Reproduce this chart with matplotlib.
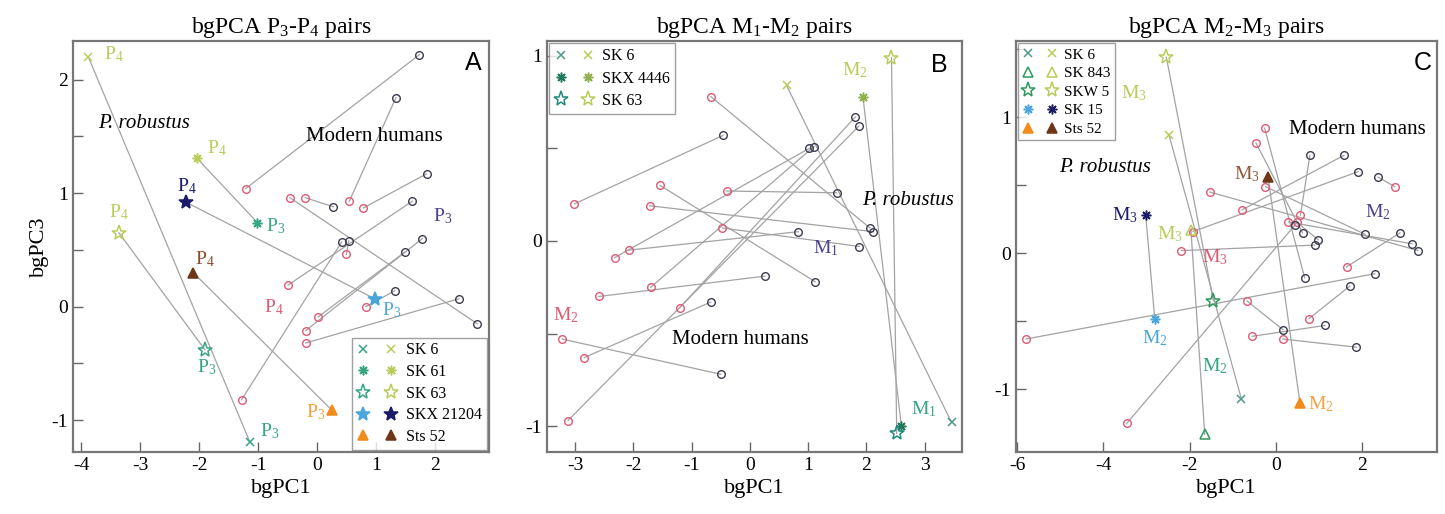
import matplotlib
matplotlib.use('Agg')
import matplotlib.pyplot as plt
from matplotlib.lines import Line2D
from matplotlib.legend_handler import HandlerTuple
from matplotlib.ticker import MultipleLocator

plt.rcParams['font.family'] = ['Liberation Serif', 'DejaVu Serif']
plt.rcParams['mathtext.fontset'] = 'custom'
plt.rcParams['mathtext.rm'] = 'Liberation Serif'
plt.rcParams['mathtext.it'] = 'Liberation Serif:italic'
plt.rcParams['axes.unicode_minus'] = False

# ---------------- Panel A : P3-P4 ----------------
a_mh_p4_x = [-1.21, 0.55, 0.79, -0.46, -0.20, -0.49, -1.28, 0.50, 0.02, -0.19, -0.19, 0.83]
a_mh_p4_y = [1.04, 0.93, 0.87, 0.96, 0.96, 0.19, -0.82, 0.46, -0.09, -0.21, -0.32, 0.00]
a_mh_p3_x = [1.74, 1.34, 1.86, 2.72, 0.28, 1.62, 0.42, 0.54, 1.49, 1.79, 2.41, 1.32]
a_mh_p3_y = [2.22, 1.84, 1.17, -0.15, 0.88, 0.93, 0.57, 0.58, 0.48, 0.60, 0.07, 0.14]
a_rob_names = ["SK 6", "SK 61", "SK 63", "SKX 21204", "Sts 52"]
a_rob_p3_x = [-1.14, -1.01, -1.90, 0.98, 0.25]
a_rob_p3_y = [-1.19, 0.74, -0.38, 0.07, -0.91]
a_rob_p4_x = [-3.88, -2.04, -3.36, -2.22, -2.10]
a_rob_p4_y = [2.20, 1.31, 0.65, 0.92, 0.30]

# ---------------- Panel B : M1-M2 ----------------
b_mh_m2_x = [-3.01, -0.67, -0.40, -1.54, -1.72, -2.08, -2.32, -2.59, -2.84, -3.22, -3.12, -1.20, -1.70, -0.47]
b_mh_m2_y = [0.20, 0.78, 0.27, 0.30, 0.19, -0.05, -0.09, -0.30, -0.63, -0.53, -0.97, -0.36, -0.25, 0.07]
b_mh_m1_x = [-0.46, 2.06, 1.49, 1.12, 2.12, 0.83, 1.02, 0.26, -0.67, -0.50, 1.87, 1.81, 1.10, 1.88]
b_mh_m1_y = [0.57, 0.07, 0.26, -0.22, 0.05, 0.05, 0.50, -0.19, -0.33, -0.72, 0.62, 0.67, 0.51, -0.03]
b_rob_names = ["SK 6", "SKX 4446", "SK 63"]
b_rob_m1_x = [3.46, 2.60, 2.52]
b_rob_m1_y = [-0.98, -1.00, -1.04]
b_rob_m2_x = [0.63, 1.94, 2.43]
b_rob_m2_y = [0.84, 0.78, 0.99]

# ---------------- Panel C : M2-M3 ----------------
c_mh_m3_x = [-5.80, -3.46, -0.67, -0.55, 0.16, 0.77, 1.64, -2.19, 2.76, 0.57, -0.26, -0.46, -1.92, -0.78, -0.24, 0.29, -1.53, 0.48]
c_mh_m3_y = [-0.63, -1.25, -0.35, -0.61, -0.63, -0.48, -0.10, 0.02, 0.49, 0.28, 0.92, 0.81, 0.16, 0.32, 0.49, 0.23, 0.45, 0.23]
c_mh_m2_x = [2.30, 0.45, 0.16, 1.14, 1.87, 1.72, 2.88, 0.90, 2.37, 0.79, 0.67, 0.62, 1.91, 1.58, 2.07, 3.16, 3.30, 0.98]
c_mh_m2_y = [-0.15, 0.21, -0.56, -0.53, -0.69, -0.24, 0.15, 0.06, 0.56, 0.72, -0.18, 0.15, 0.60, 0.72, 0.14, 0.07, 0.02, 0.10]
c_rob_names = ["SK 6", "SK 843", "SKW 5", "SK 15", "Sts 52"]
c_rob_m2_x = [-0.80, -1.65, -1.45, -2.81, 0.56]
c_rob_m2_y = [-1.07, -1.33, -0.35, -0.48, -1.10]
c_rob_m3_x = [-2.48, -1.97, -2.54, -3.02, -0.18]
c_rob_m3_y = [0.87, 0.17, 1.44, 0.28, 0.56]

# ---------------- styles ----------------
LINE = '#a3a3a3'
RED = '#dd5a74'
DARK = '#3c3c50'
LG = '#b9cc5a'
TEAL = '#33a57f'
GREEN = '#2f9a5e'
NAVY = '#1b1b6a'
LBLUE = '#4aa6dc'
BROWN = '#6e3517'
ORANGE = '#f28a1c'
PURPLE = '#4d418f'
SKTEAL = '#4b9a8c'

AST = (8, 2, 0)
# marker, first colour, second colour, filled, size
a_styles = [('x', TEAL, LG, False, 6), (AST, TEAL, LG, False, 7), ('*', TEAL, LG, False, 11),
            ('*', LBLUE, NAVY, True, 10), ('^', ORANGE, BROWN, True, 7)]
b_styles = [('x', SKTEAL, LG, False, 6), (AST, '#1f7a5a', '#8fb04a', False, 7), ('*', '#1f8a7a', LG, False, 11)]
c_styles = [('x', SKTEAL, LG, False, 6), ('^', GREEN, LG, False, 7), ('*', GREEN, LG, False, 11),
            (AST, LBLUE, NAVY, False, 7), ('^', ORANGE, BROWN, True, 7)]

fig = plt.figure(figsize=(14.45, 5.14), dpi=100)
axA = fig.add_axes([73/1445, 62/514, 416/1445, 411/514])
axB = fig.add_axes([547/1445, 62/514, 415/1445, 411/514])
axC = fig.add_axes([1016/1445, 62/514, 421/1445, 411/514])


def modern(ax, x1, y1, x2, y2):
    for i in range(len(x1)):
        ax.plot([x1[i], x2[i]], [y1[i], y2[i]], color=LINE, lw=0.9, zorder=1)
    ax.plot(x1, y1, 'o', ls='none', mfc='none', mec=RED, mew=1.0, ms=5.5, zorder=3)
    ax.plot(x2, y2, 'o', ls='none', mfc='none', mec=DARK, mew=1.0, ms=5.5, zorder=3)


def robust(ax, x1, y1, x2, y2, styles, names, loc, bbox, fs, hl, ls):
    handles = []
    for i in range(len(x1)):
        m, c1, c2, filled, ms = styles[i]
        ax.plot([x1[i], x2[i]], [y1[i], y2[i]], color=LINE, lw=0.9, zorder=1)
        ax.plot(x1[i], y1[i], marker=m, ls='none', mec=c1, mfc=(c1 if filled else 'none'),
                mew=1.1, ms=ms, zorder=4)
        ax.plot(x2[i], y2[i], marker=m, ls='none', mec=c2, mfc=(c2 if filled else 'none'),
                mew=1.1, ms=ms, zorder=4)
        h1 = Line2D([], [], marker=m, ls='none', mec=c1, mfc=(c1 if filled else 'none'), mew=1.1, ms=ms)
        h2 = Line2D([], [], marker=m, ls='none', mec=c2, mfc=(c2 if filled else 'none'), mew=1.1, ms=ms)
        handles.append((h1, h2))
    leg = ax.legend(handles, names, handler_map={tuple: HandlerTuple(ndivide=None, pad=0.9)},
                    loc=loc, bbox_to_anchor=bbox, fontsize=fs, frameon=True, fancybox=False,
                    handlelength=hl, handletextpad=0.5, borderpad=0.3, labelspacing=ls,
                    borderaxespad=0.15)
    leg.get_frame().set_edgecolor('#888888')
    leg.get_frame().set_linewidth(1.0)


def frame(ax, xlim, ylim, xmaj, title, letter, lx, ly):
    ax.set_xlim(*xlim)
    ax.set_ylim(*ylim)
    ax.xaxis.set_major_locator(MultipleLocator(xmaj))
    ax.yaxis.set_major_locator(MultipleLocator(1))
    ax.yaxis.set_minor_locator(MultipleLocator(0.5))
    ax.tick_params(which='both', direction='in', length=7, width=1.0, color='#666666',
                   labelsize=14, top=False, right=False)
    for s in ax.spines.values():
        s.set_color('#777777')
        s.set_linewidth(1.6)
    ax.set_title(title, fontsize=17, pad=6)
    ax.set_xlabel('bgPC1', fontsize=16, labelpad=4)
    ax.text(lx, ly, letter, fontsize=18, family='Liberation Sans', ha='center', va='center')


# ---- Panel A ----
modern(axA, a_mh_p4_x, a_mh_p4_y, a_mh_p3_x, a_mh_p3_y)
robust(axA, a_rob_p3_x, a_rob_p3_y, a_rob_p4_x, a_rob_p4_y, a_styles, a_rob_names,
       'lower right', (1.0, 0.0), 11.5, 2.6, 0.35)
frame(axA, (-4.14, 2.92), (-1.28, 2.34), 1, 'bgPCA P$_3$-P$_4$ pairs', 'A', 2.65, 2.15)
axA.set_ylabel('bgPC3', fontsize=16, labelpad=2)
fsA = 14
for (tx, ty, t, c) in [(-3.45, 2.22, 'P$_4$', LG), (-1.70, 1.40, 'P$_4$', LG), (-2.21, 1.06, 'P$_4$', NAVY),
                       (-0.70, 0.71, 'P$_3$', TEAL), (-3.36, 0.83, 'P$_4$', LG), (2.14, 0.80, 'P$_3$', PURPLE),
                       (-1.90, 0.42, 'P$_4$', '#8a4a2a'), (-0.74, 0.00, 'P$_4$', RED),
                       (1.26, -0.03, 'P$_3$', LBLUE), (-1.87, -0.53, 'P$_3$', TEAL),
                       (-0.03, -0.93, 'P$_3$', '#f5a040'), (-0.80, -1.10, 'P$_3$', TEAL)]:
    axA.text(tx, ty, t, color=c, fontsize=fsA, ha='center', va='center')
axA.text(-2.94, 1.61, 'P. robustus', style='italic', fontsize=15, ha='center', va='center')
axA.text(0.97, 1.50, 'Modern humans', fontsize=15, ha='center', va='center')

# ---- Panel B ----
modern(axB, b_mh_m2_x, b_mh_m2_y, b_mh_m1_x, b_mh_m1_y)
robust(axB, b_rob_m1_x, b_rob_m1_y, b_rob_m2_x, b_rob_m2_y, b_styles, b_rob_names,
       'upper left', (0.0, 1.0), 11.5, 2.5, 0.4)
frame(axB, (-3.48, 3.64), (-1.14, 1.08), 1, 'bgPCA M$_1$-M$_2$ pairs', 'B', 3.25, 0.95)
for (tx, ty, t, c) in [(1.80, 0.92, 'M$_2$', LG), (1.30, -0.04, 'M$_1$', PURPLE),
                       (-3.16, -0.40, 'M$_2$', RED), (2.98, -0.91, 'M$_1$', TEAL)]:
    axB.text(tx, ty, t, color=c, fontsize=14, ha='center', va='center')
axB.text(1.92, 0.22, 'P. robustus', style='italic', fontsize=15, ha='left', va='center')
axB.text(-0.17, -0.53, 'Modern humans', fontsize=15, ha='center', va='center')

# ---- Panel C ----
modern(axC, c_mh_m3_x, c_mh_m3_y, c_mh_m2_x, c_mh_m2_y)
robust(axC, c_rob_m2_x, c_rob_m2_y, c_rob_m3_x, c_rob_m3_y, c_styles, c_rob_names,
       'upper left', (0.0, 1.0), 11, 2.2, 0.32)
frame(axC, (-6.03, 3.74), (-1.46, 1.56), 2, 'bgPCA M$_2$-M$_3$ pairs', 'C', 3.41, 1.40)
for (tx, ty, t, c) in [(-3.30, 1.18, 'M$_3$', LG), (-0.67, 0.58, 'M$_3$', '#8a5a3a'),
                       (-3.50, 0.28, 'M$_3$', NAVY), (2.37, 0.30, 'M$_2$', PURPLE),
                       (-2.46, 0.14, 'M$_3$', LG), (-1.42, -0.03, 'M$_3$', RED),
                       (-2.81, -0.62, 'M$_2$', LBLUE), (-1.42, -0.83, 'M$_2$', TEAL),
                       (1.05, -1.11, 'M$_2$', '#f5a040')]:
    axC.text(tx, ty, t, color=c, fontsize=14, ha='center', va='center')
axC.text(-3.97, 0.63, 'P. robustus', style='italic', fontsize=15, ha='center', va='center')
axC.text(1.90, 0.91, 'Modern humans', fontsize=15, ha='center', va='center')

fig.savefig('out.png', dpi=100)
